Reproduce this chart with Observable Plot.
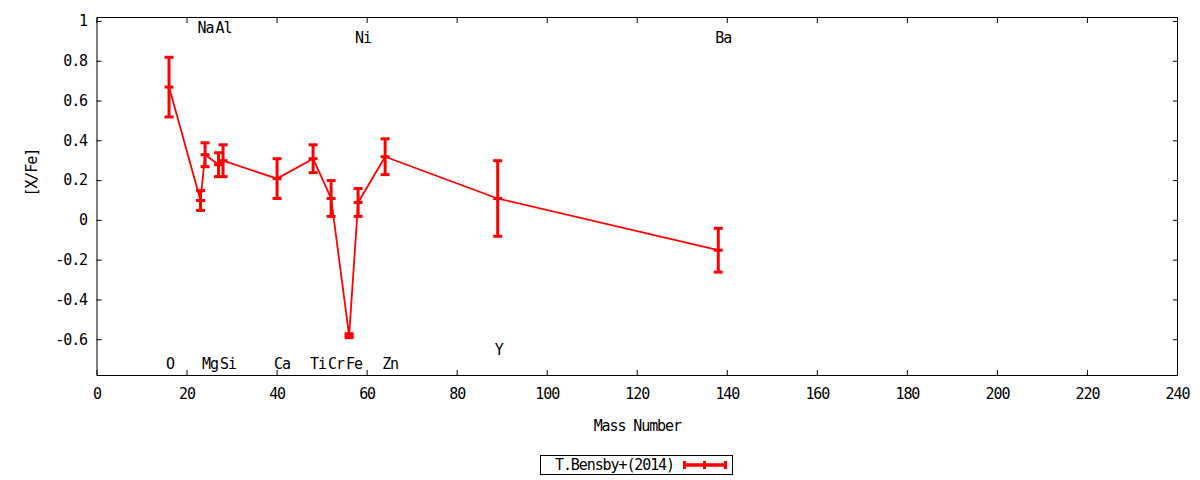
<!DOCTYPE html>
<html>
<head>
<meta charset="utf-8">
<script src="https://cdn.jsdelivr.net/npm/d3@7"></script>
<script src="https://cdn.jsdelivr.net/npm/@observablehq/plot@0.6"></script>
<style>
  html, body { margin: 0; padding: 0; background: #fff; }
  body { font-family: "DejaVu Sans Mono", monospace; width: 1200px; height: 480px; overflow: hidden; }
  #chart svg text { letter-spacing: -1.1px; }
  #legend { position: relative; width: 1200px; height: 35px; }
  #legend .box { position: absolute; left: 540px; top: 10px; width: 193px; height: 20px; box-sizing: border-box; border: 1px solid #000; }
  #legend .label { position: absolute; left: 14px; top: 0; line-height: 18px; font-size: 15px; letter-spacing: -1.1px; color: #000; white-space: nowrap; }
  #legend svg { position: absolute; left: 141px; top: 0; }
</style>
</head>
<body>
<div id="chart"></div>
<div id="legend"></div>
<script>
// ---- data ----
const elements    = ["O", "Na", "Mg", "Al", "Si", "Ca", "Ti", "Cr", "Fe", "Ni", "Zn", "Y", "Ba"];
const massNumbers = [16, 23, 24, 27, 28, 40, 48, 52, 56, 58, 64, 89, 138];
const xFe         = [0.67, 0.10, 0.33, 0.28, 0.30, 0.21, 0.31, 0.11, -0.58, 0.09, 0.32, 0.11, -0.15];
const xFeErr      = [0.15, 0.05, 0.06, 0.06, 0.08, 0.10, 0.07, 0.09, 0.01, 0.07, 0.09, 0.19, 0.11];
const labelY      = [-0.72, 0.97, -0.72, 0.97, -0.72, -0.72, -0.72, -0.72, -0.72, 0.92, -0.72, -0.65, 0.92];

const xTicks = [0, 20, 40, 60, 80, 100, 120, 140, 160, 180, 200, 220, 240];
const xTickLabels = ["0", "20", "40", "60", "80", "100", "120", "140", "160", "180", "200", "220", "240"];
const yTicks = [-0.6, -0.4, -0.2, 0, 0.2, 0.4, 0.6, 0.8, 1];
const yTickLabels = ["-0.6", "-0.4", "-0.2", "0", "0.2", "0.4", "0.6", "0.8", "1"];

const xLabel = "Mass Number";
const yLabel = "[X/Fe]";
const seriesName = "T.Bensby+(2014)";

// ---- build table ----
const rows = elements.map((el, i) => ({
  el,
  mass: massNumbers[i],
  v: xFe[i],
  lo: xFe[i] - xFeErr[i],
  hi: xFe[i] + xFeErr[i],
  ly: labelY[i]
}));

const RED = "#ff0000";
const hbar = {
  draw(ctx, size) {
    const r = Math.sqrt(size / Math.PI);
    ctx.moveTo(-r, 0);
    ctx.lineTo(r, 0);
  }
};

const chart = Plot.plot({
  width: 1200,
  height: 445,
  marginLeft: 96.5,
  marginRight: 23,
  marginTop: 17,
  marginBottom: 70,
  style: { fontFamily: "DejaVu Sans Mono, monospace", fontSize: "15px", color: "#000", background: "#fff" },
  x: { domain: [0, 240] },
  y: { domain: [-0.78, 1.02] },
  marks: [
    // inward tick marks, mirrored
    Plot.axisX({ anchor: "bottom", ticks: xTicks, tickSize: -5, text: null, label: null, stroke: "#000" }),
    Plot.axisX({ anchor: "top", ticks: xTicks, tickSize: -5, text: null, label: null, stroke: "#000" }),
    Plot.axisY({ anchor: "left", ticks: yTicks, tickSize: -5, text: null, label: null, stroke: "#000" }),
    Plot.axisY({ anchor: "right", ticks: yTicks, tickSize: -5, text: null, label: null, stroke: "#000" }),
    // tick labels
    Plot.axisX({ anchor: "bottom", ticks: xTicks, tickSize: 0, tickPadding: 13, label: null,
      tickFormat: d => xTickLabels[xTicks.indexOf(d)] }),
    Plot.axisY({ anchor: "left", ticks: yTicks, tickSize: 0, tickPadding: 10, label: null,
      tickFormat: d => yTickLabels[yTicks.indexOf(d)] }),
    // axis titles
    Plot.text([xLabel], { frameAnchor: "bottom", dy: 55, text: d => d, fill: "#000" }),
    Plot.text([yLabel], { frameAnchor: "left", dx: -65, rotate: -90, text: d => d, fill: "#000" }),
    // data
    Plot.line(rows, { x: "mass", y: "v", stroke: RED, strokeWidth: 1.8 }),
    Plot.ruleX(rows, { x: "mass", y1: "lo", y2: "hi", stroke: RED, strokeWidth: 3 }),
    Plot.dot(rows, { x: "mass", y: "lo", symbol: hbar, r: 4.5, fill: "none", stroke: RED, strokeWidth: 3 }),
    Plot.dot(rows, { x: "mass", y: "hi", symbol: hbar, r: 4.5, fill: "none", stroke: RED, strokeWidth: 3 }),
    Plot.dot(rows, { x: "mass", y: "v", symbol: hbar, r: 4.5, fill: "none", stroke: RED, strokeWidth: 3 }),
    // element labels
    Plot.text(rows, { x: "mass", y: "ly", text: "el", textAnchor: "start", dx: -3, dy: 1, fill: "#000" }),
    Plot.frame({ stroke: "#000", strokeWidth: 1 })
  ]
});
document.getElementById("chart").appendChild(chart);

// ---- legend ----
const legend = d3.select("#legend");
const box = legend.append("div").attr("class", "box");
box.append("span").attr("class", "label").text(seriesName);
const ls = box.append("svg").attr("width", 48).attr("height", 18);
ls.append("line").attr("x1", 1).attr("x2", 45).attr("y1", 9).attr("y2", 9)
  .attr("stroke", RED).attr("stroke-width", 3.5);
[2.5, 22.5, 43.5].forEach(x => {
  ls.append("line").attr("x1", x).attr("x2", x).attr("y1", 5).attr("y2", 13)
    .attr("stroke", RED).attr("stroke-width", 3);
});
</script>
</body>
</html>
